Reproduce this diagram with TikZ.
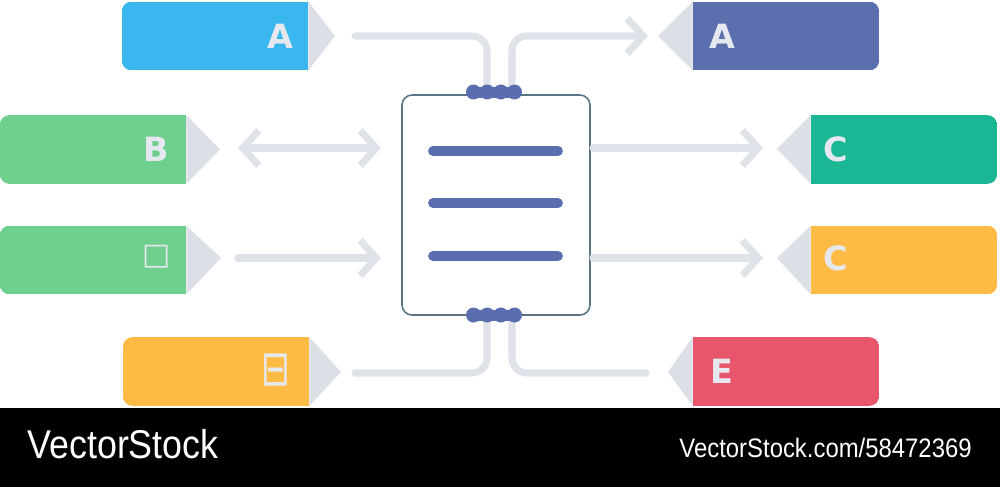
\documentclass[tikz,border=0pt]{standalone}
\usepackage{fontspec}
\setmainfont{Liberation Sans}
\newfontfamily\letrafont{DejaVu Sans}
\usetikzlibrary{arrows.meta}

\definecolor{azulA}{HTML}{3AB7EF}
\definecolor{verde}{HTML}{6FCF8E}
\definecolor{roxo}{HTML}{5B6EAE}
\definecolor{turquesa}{HTML}{1BB795}
\definecolor{laranja}{HTML}{FDBB45}
\definecolor{vermelho}{HTML}{E8566B}
\definecolor{cinzaPonta}{HTML}{DCDFE6}
\definecolor{cinzaLinha}{HTML}{DFE2E8}
\definecolor{letraCor}{HTML}{E6E8EF}
\definecolor{bordaDoc}{HTML}{5B7486}
\definecolor{azulDoc}{HTML}{5A6DAE}

\tikzset{
    etiqueta/.style={rectangle, minimum width=3.72cm, minimum height=1.36cm, inner sep=0pt},
    canto/.style={rounded corners=0.2cm},
    ponta/.style={fill=cinzaPonta},
    letra/.style={text=letraCor, font=\letrafont\bfseries\fontsize{19}{19}\selectfont, inner sep=0pt},
    conector/.style={draw=cinzaLinha, line width=4pt, line cap=round},
    seta/.style={-{Straight Barb[length=0.32cm, width=0.7cm]}},
    documento/.style={draw=bordaDoc, line width=0.9pt, rounded corners=0.2cm, minimum width=3.76cm, minimum height=4.4cm, inner sep=0pt},
    linhaDoc/.style={draw=azulDoc, line width=5.6pt, line cap=round}
}

\begin{document}
\begin{tikzpicture}[x=0.02cm, y=-0.02cm]
    \useasboundingbox (0,0) rectangle (1000,487);

    % Etiquetas da esquerda
    \node[etiqueta] (tagA) at (215,36) {}; % Etiqueta A (azul)
    \begin{scope}
        \clip[canto] (tagA.south west) rectangle ([xshift=1cm]tagA.north east);
        \fill[azulA] (tagA.south west) rectangle (tagA.north east);
    \end{scope}
    \fill[ponta] (tagA.north east) -- (335,36) coordinate (pA) -- (tagA.south east) -- cycle;
    \node[letra] (lA) at (280,36) {A};

    \node[etiqueta] (tagB) at (93,149.5) {}; % Etiqueta B (verde)
    \begin{scope}
        \clip[canto] (tagB.south west) rectangle ([xshift=1cm]tagB.north east);
        \fill[verde] (tagB.south west) rectangle (tagB.north east);
    \end{scope}
    \fill[ponta] (tagB.north east) -- (220,149.5) coordinate (pB) -- (tagB.south east) -- cycle;
    \node[letra] (lB) at (156,149) {B};

    \node[etiqueta] (tagQ) at (93,260) {}; % Etiqueta quadrado (verde)
    \begin{scope}
        \clip[canto] (tagQ.south west) rectangle ([xshift=1cm]tagQ.north east);
        \fill[verde] (tagQ.south west) rectangle (tagQ.north east);
    \end{scope}
    \fill[ponta] (tagQ.north east) -- (221,258) coordinate (pQ) -- (tagQ.south east) -- cycle;
    \node[letra, font=\letrafont\fontsize{17}{17}\selectfont] (lQ) at (157,257) {□};

    \node[etiqueta] (tagO) at (216,371.5) {}; % Etiqueta inferior (laranja)
    \begin{scope}
        \clip[canto] (tagO.south west) rectangle ([xshift=1cm]tagO.north east);
        \fill[laranja] (tagO.south west) rectangle (tagO.north east);
    \end{scope}
    \fill[ponta] (tagO.north east) -- (341,372) coordinate (pO) -- (tagO.south east) -- cycle;
    \node[letra, font=\letrafont\fontsize{28}{28}\selectfont, xscale=0.7] (lO) at (276,370) {⊟};

    % Etiquetas da direita
    \node[etiqueta] (tagA2) at (786,36) {}; % Etiqueta A (roxo)
    \begin{scope}
        \clip[canto] ([xshift=-1cm]tagA2.south west) rectangle (tagA2.north east);
        \fill[roxo] (tagA2.south west) rectangle (tagA2.north east);
    \end{scope}
    \fill[ponta] (tagA2.north west) -- (658,36) coordinate (pA2) -- (tagA2.south west) -- cycle;
    \node[letra] (lA2) at (722,36) {A};

    \node[etiqueta] (tagC1) at (904,149.5) {}; % Etiqueta C (turquesa)
    \begin{scope}
        \clip[canto] ([xshift=-1cm]tagC1.south west) rectangle (tagC1.north east);
        \fill[turquesa] (tagC1.south west) rectangle (tagC1.north east);
    \end{scope}
    \fill[ponta] (tagC1.north west) -- (777,149) coordinate (pC1) -- (tagC1.south west) -- cycle;
    \node[letra] (lC1) at (836,149) {C};

    \node[etiqueta] (tagC2) at (904,260) {}; % Etiqueta C (laranja)
    \begin{scope}
        \clip[canto] ([xshift=-1cm]tagC2.south west) rectangle (tagC2.north east);
        \fill[laranja] (tagC2.south west) rectangle (tagC2.north east);
    \end{scope}
    \fill[ponta] (tagC2.north west) -- (777,258) coordinate (pC2) -- (tagC2.south west) -- cycle;
    \node[letra] (lC2) at (836,258) {C};

    \node[etiqueta] (tagE) at (786,371.5) {}; % Etiqueta E (vermelho)
    \begin{scope}
        \clip[canto] ([xshift=-1cm]tagE.south west) rectangle (tagE.north east);
        \fill[vermelho] (tagE.south west) rectangle (tagE.north east);
    \end{scope}
    \fill[ponta] (tagE.north west) -- (668,372) coordinate (pE) -- (tagE.south west) -- cycle;
    \node[letra] (lE) at (722,371) {E};

    % Documento central
    \node[documento] (doc) at (496,205) {};
    \draw[linhaDoc] (433,151) -- (558,151);
    \draw[linhaDoc] (433,203) -- (558,203);
    \draw[linhaDoc] (433,256) -- (558,256);

    % Pontos de ligacao
    \coordinate (inA) at (355,36);
    \coordinate (docNE) at (487,86);
    \coordinate (docND) at (512,86);
    \coordinate (outA2) at (648,36);
    \coordinate (inB) at (238,148);
    \coordinate (docB) at (381,148);
    \coordinate (inQ) at (238,258);
    \coordinate (docQ) at (381,258);
    \coordinate (docC1) at (593,148);
    \coordinate (outC1) at (763,148);
    \coordinate (docC2) at (593,258);
    \coordinate (outC2) at (763,258);
    \coordinate (inO) at (355,373);
    \coordinate (docSE) at (487,322);
    \coordinate (docSD) at (512,322);
    \coordinate (outE) at (646,373);

    % Conectores
    \draw[conector, rounded corners=0.3cm] (inA) -| (docNE);
    \draw[conector, seta, rounded corners=0.3cm] (docND) |- (outA2);
    \draw[conector, {Straight Barb[length=0.32cm, width=0.7cm]}-{Straight Barb[length=0.32cm, width=0.7cm]}] (inB) -- (docB);
    \draw[conector, seta] (inQ) -- (docQ);
    \draw[conector, seta] (docC1) -- (outC1);
    \draw[conector, seta] (docC2) -- (outC2);
    \draw[conector, rounded corners=0.3cm] (inO) -| (docSE);
    \draw[conector, rounded corners=0.3cm] (docSD) |- (outE);

    % Contas (superior e inferior)
    \fill[azulDoc] (472,87) rectangle (516,98);
    \fill[azulDoc] (473.5,92) circle (0.15cm) (487.2,92) circle (0.15cm) (500.8,92) circle (0.15cm) (514.5,92) circle (0.15cm);
    \fill[azulDoc] (472,310) rectangle (516,321);
    \fill[azulDoc] (473.5,315) circle (0.15cm) (487.2,315) circle (0.15cm) (500.8,315) circle (0.15cm) (514.5,315) circle (0.15cm);

    % Faixa inferior
    \fill[black] (0,408) rectangle (1000,487);
    \node[anchor=base west, text=white, font=\fontsize{20.4}{20.4}\selectfont, yscale=1.12, inner sep=0pt] (marca) at (27,458) {VectorStock};
    \node[anchor=base east, text=white, font=\fontsize{13.6}{13.6}\selectfont, yscale=1.12, inner sep=0pt] (url) at (972,457) {VectorStock.com/58472369};
\end{tikzpicture}
\end{document}
